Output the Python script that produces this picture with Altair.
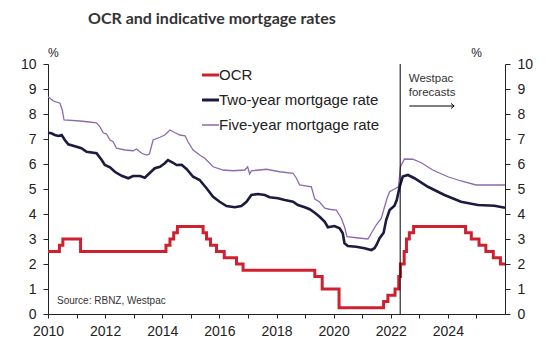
import altair as alt
import pandas as pd

SERIES = ["OCR", "Two-year mortgage rate", "Five-year mortgage rate"]
COLORS = ["#cf2030", "#1c1b3f", "#8c6aad"]

ocr_years = [2010.0, 2010.4, 2010.52, 2011.14, 2014.13, 2014.27, 2014.4, 2014.53,
             2015.43, 2015.55, 2015.69, 2015.9, 2016.17, 2016.6, 2016.83, 2019.34,
             2019.6, 2020.19, 2021.75, 2021.9, 2022.15, 2022.28, 2022.34, 2022.47,
             2022.55, 2022.65, 2022.8, 2024.62, 2024.82, 2025.09, 2025.33, 2025.59,
             2025.84, 2026.0]
ocr_values = [2.5, 2.75, 3.0, 2.5, 2.75, 3.0, 3.25, 3.5,
              3.25, 3.0, 2.75, 2.5, 2.25, 2.0, 1.75, 1.5,
              1.0, 0.25, 0.5, 0.75, 1.0, 1.5, 2.0, 2.5,
              3.0, 3.25, 3.5, 3.25, 3.0, 2.75, 2.5, 2.25,
              2.0, 2.0]

two_years = [2010.0, 2010.12, 2010.24, 2010.36, 2010.48, 2010.59, 2010.71, 2011.0,
             2011.17, 2011.35, 2011.7, 2011.88, 2011.99, 2012.17, 2012.34, 2012.58,
             2012.81, 2012.98, 2013.22, 2013.39, 2013.57, 2013.74, 2013.92, 2014.09,
             2014.2, 2014.38, 2014.5, 2014.68, 2014.85, 2015.08, 2015.31, 2015.55,
             2015.78, 2016.01, 2016.25, 2016.54, 2016.77, 2016.95, 2017.12, 2017.35,
             2017.59, 2017.76, 2018.05, 2018.29, 2018.58, 2018.75, 2018.99, 2019.16,
             2019.34, 2019.51, 2019.69, 2019.8, 2020.03, 2020.21, 2020.32, 2020.38,
             2020.5, 2020.79, 2021.08, 2021.32, 2021.43, 2021.5, 2021.61, 2021.75,
             2021.84, 2021.96, 2022.13, 2022.21, 2022.31, 2022.42, 2022.6, 2022.83,
             2023.3, 2023.88, 2024.46, 2025.05, 2025.63, 2026.0]
two_values = [7.25, 7.23, 7.16, 7.12, 7.16, 6.96, 6.79, 6.69,
              6.63, 6.49, 6.43, 6.16, 5.96, 5.87, 5.69, 5.53,
              5.43, 5.52, 5.52, 5.45, 5.65, 5.83, 5.89, 6.03,
              6.16, 6.05, 5.96, 5.97, 5.8, 5.49, 5.36, 5.03,
              4.69, 4.49, 4.32, 4.27, 4.32, 4.49, 4.76, 4.8,
              4.76, 4.67, 4.63, 4.56, 4.49, 4.36, 4.27, 4.19,
              4.05, 3.89, 3.69, 3.47, 3.52, 3.43, 3.23, 2.83,
              2.72, 2.69, 2.63, 2.56, 2.63, 2.76, 3.03, 3.25,
              3.76, 4.16, 4.33, 4.56, 5.09, 5.5, 5.56, 5.43,
              5.09, 4.76, 4.49, 4.36, 4.33, 4.25]

five_years = [2010.0, 2010.19, 2010.42, 2010.5, 2010.56, 2011.12, 2011.45, 2011.7,
              2011.82, 2011.93, 2012.05, 2012.17, 2012.28, 2012.4, 2012.7, 2012.98,
              2013.1, 2013.28, 2013.45, 2013.55, 2013.68, 2013.92, 2014.09, 2014.27,
              2014.45, 2014.62, 2014.8, 2014.9, 2015.08, 2015.31, 2015.49, 2015.78,
              2016.13, 2016.48, 2016.89, 2016.99, 2017.06, 2017.12, 2017.65, 2018.11,
              2018.58, 2018.7, 2018.81, 2019.22, 2019.34, 2019.5, 2019.69, 2019.85,
              2020.09, 2020.27, 2020.38, 2020.47, 2020.79, 2021.2, 2021.32, 2021.49,
              2021.67, 2021.87, 2021.96, 2022.13, 2022.27, 2022.34, 2022.48, 2022.77,
              2023.07, 2023.47, 2024.0, 2024.46, 2024.99, 2026.0]
five_values = [8.69, 8.52, 8.43, 8.16, 7.76, 7.72, 7.68, 7.65,
               7.49, 7.25, 7.2, 6.96, 6.89, 6.63, 6.56, 6.53,
               6.6, 6.43, 6.36, 6.4, 6.96, 7.07, 7.16, 7.36,
               7.25, 7.16, 7.13, 6.89, 6.56, 6.36, 6.23, 5.89,
               5.76, 5.73, 5.76, 5.89, 5.6, 5.73, 5.79, 5.69,
               5.63, 5.43, 5.16, 5.09, 4.6, 4.49, 4.23, 4.19,
               4.16, 3.83, 3.49, 3.09, 3.05, 3.0, 3.23, 3.56,
               3.83, 4.63, 4.89, 5.0, 5.09, 5.89, 6.2, 6.19,
               6.05, 5.76, 5.49, 5.32, 5.16, 5.16]

year_ticks = list(range(2010, 2026))
value_ticks = list(range(0, 11))
forecast_start = [2022.33]
arrow_from = [2022.65]
arrow_to = [2024.22]
arrow_level = [8.32]
note_year = [2022.63]
note_level = [9.28]
note_text = ["Westpac\nforecasts"]

FONT = "Liberation Sans"
INK = "#222222"


def frame(name, xs, ys):
    return pd.DataFrame({"year": xs, "value": ys, "series": name})


df_ocr = frame(SERIES[0], ocr_years, ocr_values)
df_two = frame(SERIES[1], two_years, two_values)
df_five = frame(SERIES[2], five_years, five_values)

x_scale = alt.Scale(domain=[2010, 2026], nice=False, zero=False)
y_scale = alt.Scale(domain=[0, 10], nice=False)

x_axis = alt.Axis(values=year_ticks, format="d",
                  labelExpr="datum.value % 2 == 0 ? datum.label : ''",
                  grid=False, tickSize=4, labelPadding=6, labelFlush=False,
                  labelOverlap=False, title=None, domainColor=INK, tickColor=INK,
                  labelColor=INK, labelFont=FONT, labelFontSize=14)


def X(field):
    return alt.X(field, scale=x_scale, axis=x_axis, title=None)


def y_axis(orient):
    return alt.Axis(orient=orient, values=value_ticks, grid=False, tickSize=5,
                    labelPadding=7, labelFlush=False, title=None, domainColor=INK,
                    tickColor=INK, labelColor=INK, labelFont=FONT, labelFontSize=14)


legend = alt.Legend(title=None, orient="none", legendX=155, legendY=3.5,
                    symbolType="stroke", symbolSize=289,
                    symbolStrokeWidth=alt.ExprRef(
                        "datum.value === 'Five-year mortgage rate' ? 1.5 : 3"),
                    labelFont=FONT, labelFontSize=15, labelColor=INK, labelLimit=400,
                    labelOffset=1, rowPadding=9, padding=0)

color = alt.Color("series:N", scale=alt.Scale(domain=SERIES, range=COLORS), legend=legend)

five = alt.Chart(df_five).mark_line(strokeWidth=1.3).encode(
    x=X("year:Q"),
    y=alt.Y("value:Q", scale=y_scale, axis=y_axis("left")),
    color=color)

two = alt.Chart(df_two).mark_line(strokeWidth=2.6).encode(
    x=X("year:Q"),
    y=alt.Y("value:Q", scale=y_scale, axis=y_axis("right")),
    color=color)

ocr = alt.Chart(df_ocr).mark_line(strokeWidth=3, interpolate="step-after").encode(
    x=X("year:Q"),
    y=alt.Y("value:Q", scale=y_scale, axis=None),
    color=color)

vline = alt.Chart(pd.DataFrame({"year": forecast_start})).mark_rule(
    color="#000000", strokeWidth=1).encode(x=X("year:Q"))

arrow_df = pd.DataFrame({"x0": arrow_from, "x1": arrow_to, "y": arrow_level})
arrow_line = alt.Chart(arrow_df).mark_rule(color="#000000", strokeWidth=1).encode(
    x=X("x0:Q"), x2="x1:Q",
    y=alt.Y("y:Q", scale=y_scale, axis=None))
arrow_head = alt.Chart(arrow_df).mark_point(
    shape="M-1,-0.8L0,0L-1,0.8", size=40, filled=False, stroke="#000000",
    strokeWidth=1, opacity=1).encode(
    x=X("x1:Q"),
    y=alt.Y("y:Q", scale=y_scale, axis=None))

note = alt.Chart(pd.DataFrame({"year": note_year, "value": note_level, "t": note_text})).mark_text(
    align="left", baseline="alphabetic", font=FONT, fontSize=11.5, color="#333333",
    lineBreak="\n", lineHeight=13.7).encode(
    x=X("year:Q"),
    y=alt.Y("value:Q", scale=y_scale, axis=None),
    text="t:N")

title = alt.Chart(pd.DataFrame({"t": ["OCR and indicative mortgage rates"]})).mark_text(
    align="left", baseline="alphabetic", font="Lato", fontSize=16, fontWeight="bold",
    color="#333333").encode(x=alt.value(40), y=alt.value(-40), text="t:N")

pct = alt.Chart(pd.DataFrame({"t": ["%"]})).mark_text(
    align="left", baseline="alphabetic", font=FONT, fontSize=12, color=INK).encode(
    x=alt.value(0), y=alt.value(-7), text="t:N")
pct_r = alt.Chart(pd.DataFrame({"t": ["%"]})).mark_text(
    align="right", baseline="alphabetic", font=FONT, fontSize=12, color=INK).encode(
    x=alt.value(434), y=alt.value(-7), text="t:N")

source = alt.Chart(pd.DataFrame({"t": ["Source: RBNZ, Westpac"]})).mark_text(
    align="left", baseline="alphabetic", font=FONT, fontSize=10, color="#333333").encode(
    x=alt.value(9), y=alt.value(240), text="t:N")

chart = alt.layer(five, two, ocr, vline, arrow_line, arrow_head, note, title, pct, pct_r, source).resolve_axis(
    y="independent").properties(
    width=457, height=250,
    autosize=alt.AutoSizeParams(type="none"),
    padding={"left": 48, "top": 64, "right": 41, "bottom": 38},
    background="#ffffff",
).configure_view(stroke=None)

chart.save("out.html", embed_options={"renderer": "svg", "actions": False})
